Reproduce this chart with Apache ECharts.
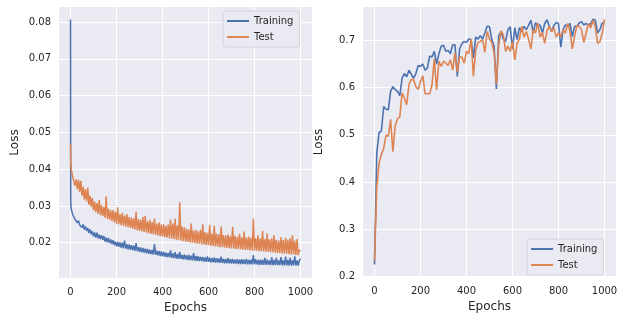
<!DOCTYPE html>
<html>
<head>
<meta charset="utf-8">
<script src="https://cdn.jsdelivr.net/npm/echarts@6/dist/echarts.min.js"></script>
<style>
html,body{margin:0;padding:0;background:#fff;}
#chart{width:625px;height:322px;}
</style>
</head>
<body>
<div id="chart"></div>
<script>
// ---------- Data ----------
const seriesNames = ['Training', 'Test'];
const xTickValues = [0, 200, 400, 600, 800, 1000];
const lossTickLabels = ['0.02', '0.03', '0.04', '0.05', '0.06', '0.07', '0.08'];
const accTickLabels = ['0.2', '0.3', '0.4', '0.5', '0.6', '0.7'];

// epochs for the loss plot: 0..4, then every 5 epochs
const lossEpochs = [0, 1, 2, 3, 4];
for (let e = 5; e <= 1000; e += 5) lossEpochs.push(e);

const trainLoss = [
0.0807,0.0320,0.0300,0.0292,0.0288,
0.0290,0.0276,0.0274,0.0263,0.0268,0.0254,0.0260,0.0248,0.0253,0.0241,
0.0250,0.0236,0.0244,0.0232,0.0240,0.0227,0.0236,0.0223,0.0231,0.0217,
0.0228,0.0214,0.0227,0.0212,0.0222,0.0210,0.0220,0.0208,0.0218,0.0203,
0.0214,0.0201,0.0213,0.0199,0.0209,0.0196,0.0207,0.0194,0.0203,0.0190,
0.0202,0.0189,0.0201,0.0187,0.0200,0.0185,0.0206,0.0184,0.0196,0.0182,
0.0195,0.0181,0.0193,0.0180,0.0192,0.0178,0.0199,0.0177,0.0188,0.0175,
0.0187,0.0174,0.0186,0.0173,0.0184,0.0171,0.0183,0.0170,0.0181,0.0169,
0.0180,0.0168,0.0196,0.0167,0.0178,0.0166,0.0177,0.0164,0.0176,0.0163,
0.0175,0.0162,0.0173,0.0161,0.0172,0.0160,0.0179,0.0159,0.0171,0.0158,
0.0174,0.0157,0.0169,0.0156,0.0175,0.0156,0.0167,0.0155,0.0168,0.0154,
0.0166,0.0153,0.0167,0.0153,0.0165,0.0152,0.0172,0.0151,0.0164,0.0151,
0.0163,0.0150,0.0162,0.0150,0.0161,0.0149,0.0160,0.0148,0.0163,0.0148,
0.0159,0.0147,0.0158,0.0147,0.0160,0.0146,0.0158,0.0146,0.0157,0.0145,
0.0162,0.0145,0.0156,0.0144,0.0156,0.0144,0.0158,0.0144,0.0155,0.0143,
0.0156,0.0143,0.0154,0.0143,0.0155,0.0142,0.0154,0.0142,0.0155,0.0142,
0.0154,0.0142,0.0156,0.0141,0.0153,0.0141,0.0154,0.0141,0.0166,0.0141,
0.0155,0.0141,0.0153,0.0140,0.0154,0.0140,0.0153,0.0140,0.0159,0.0140,
0.0154,0.0140,0.0152,0.0139,0.0160,0.0139,0.0153,0.0139,0.0159,0.0139,
0.0152,0.0139,0.0161,0.0139,0.0152,0.0138,0.0162,0.0138,0.0153,0.0138,
0.0159,0.0138,0.0152,0.0138,0.0163,0.0138,0.0152,0.0138,0.0151,0.0157
];

const testLoss = [
0.0470,0.0410,0.0418,0.0400,0.0405,
0.0398,0.0378,0.0380,0.0355,0.0372,0.0345,0.0371,0.0338,0.0368,0.0328,
0.0352,0.0318,0.0345,0.0312,0.0350,0.0303,0.0328,0.0298,0.0322,0.0288,
0.0312,0.0283,0.0308,0.0279,0.0316,0.0275,0.0302,0.0272,0.0297,0.0268,
0.0326,0.0265,0.0292,0.0262,0.0288,0.0259,0.0289,0.0256,0.0284,0.0252,
0.0296,0.0250,0.0277,0.0248,0.0281,0.0246,0.0274,0.0244,0.0278,0.0242,
0.0270,0.0240,0.0268,0.0238,0.0266,0.0236,0.0284,0.0234,0.0264,0.0232,
0.0262,0.0231,0.0270,0.0229,0.0273,0.0227,0.0258,0.0226,0.0262,0.0224,
0.0256,0.0223,0.0266,0.0221,0.0252,0.0220,0.0255,0.0218,0.0250,0.0217,
0.0250,0.0215,0.0246,0.0214,0.0249,0.0212,0.0263,0.0211,0.0252,0.0210,
0.0265,0.0208,0.0247,0.0207,0.0310,0.0206,0.0244,0.0204,0.0242,0.0203,
0.0238,0.0202,0.0236,0.0201,0.0252,0.0200,0.0233,0.0199,0.0235,0.0198,
0.0231,0.0197,0.0235,0.0196,0.0250,0.0195,0.0229,0.0194,0.0227,0.0193,
0.0249,0.0192,0.0225,0.0191,0.0246,0.0190,0.0224,0.0189,0.0223,0.0188,
0.0244,0.0188,0.0221,0.0187,0.0220,0.0186,0.0222,0.0185,0.0218,0.0184,
0.0243,0.0184,0.0219,0.0183,0.0216,0.0182,0.0224,0.0182,0.0215,0.0181,
0.0230,0.0180,0.0214,0.0180,0.0217,0.0179,0.0213,0.0179,0.0266,0.0178,
0.0212,0.0178,0.0220,0.0177,0.0211,0.0177,0.0232,0.0176,0.0210,0.0175,
0.0225,0.0175,0.0209,0.0174,0.0212,0.0174,0.0220,0.0173,0.0208,0.0172,
0.0206,0.0172,0.0215,0.0171,0.0207,0.0170,0.0213,0.0170,0.0208,0.0169,
0.0212,0.0168,0.0220,0.0168,0.0206,0.0167,0.0210,0.0166,0.0180,0.0178
];

// epochs for the right plot: every 10 epochs
const accEpochs = [];
for (let e = 0; e <= 1000; e += 10) accEpochs.push(e);

const trainAcc = [
0.225,0.462,0.505,0.508,0.560,0.554,0.553,0.592,0.602,0.596,
0.592,0.583,0.620,0.630,0.623,0.637,0.628,0.620,0.630,0.647,
0.645,0.650,0.637,0.642,0.667,0.665,0.677,0.650,0.672,0.688,
0.690,0.677,0.679,0.672,0.691,0.691,0.624,0.682,0.693,0.698,
0.696,0.703,0.702,0.663,0.707,0.703,0.710,0.703,0.716,0.730,
0.729,0.702,0.688,0.597,0.710,0.719,0.703,0.698,0.723,0.729,
0.682,0.727,0.702,0.727,0.719,0.730,0.723,0.732,0.743,0.716,
0.738,0.730,0.733,0.716,0.736,0.744,0.730,0.719,0.732,0.738,
0.736,0.686,0.723,0.733,0.730,0.736,0.708,0.730,0.730,0.737,
0.740,0.733,0.736,0.732,0.736,0.745,0.743,0.716,0.723,0.737,
0.736
];

const testAcc = [
0.233,0.390,0.440,0.459,0.471,0.499,0.497,0.533,0.464,0.519,
0.534,0.538,0.589,0.578,0.564,0.607,0.617,0.617,0.602,0.596,
0.613,0.625,0.587,0.587,0.587,0.606,0.661,0.595,0.656,0.645,
0.656,0.652,0.647,0.659,0.637,0.674,0.633,0.665,0.665,0.652,
0.677,0.672,0.703,0.624,0.679,0.696,0.698,0.702,0.675,0.719,
0.703,0.696,0.674,0.607,0.688,0.721,0.712,0.677,0.688,0.677,
0.698,0.659,0.694,0.703,0.730,0.707,0.719,0.703,0.682,0.723,
0.716,0.737,0.707,0.717,0.694,0.721,0.730,0.719,0.727,0.707,
0.716,0.708,0.723,0.716,0.736,0.719,0.682,0.708,0.732,0.730,
0.723,0.696,0.716,0.736,0.727,0.743,0.729,0.694,0.698,0.715,
0.745
];

// ---------- Styling ----------
const BLUE = '#4c72b0';
const ORANGE = '#dd8452';
const BG = '#eaeaf2';
const TXT = '#262626';
const FONT = 'DejaVu Sans';

function zip(xs, ys) { return xs.map((x, i) => [x, ys[i]]); }

function isMultiple(v, step) {
  const r = v / step;
  return Math.abs(r - Math.round(r)) < 1e-6;
}

function xAxisCfg(gridIndex) {
  return {
    type: 'value', gridIndex: gridIndex,
    min: -50, max: 1050, minInterval: 200, maxInterval: 200,
    name: 'Epochs', nameLocation: 'middle', nameGap: 23,
    nameTextStyle: { fontFamily: FONT, fontSize: 12, color: TXT },
    axisLine: { show: false }, axisTick: { show: false },
    axisLabel: {
      fontFamily: FONT, fontSize: 10, color: TXT, margin: 9,
      showMinLabel: false, showMaxLabel: false,
      formatter: v => (isMultiple(v, 200) && xTickValues.indexOf(Math.round(v)) >= 0) ? String(Math.round(v)) : ''
    },
    splitLine: { show: true, showMinLine: false, showMaxLine: false, lineStyle: { color: '#ffffff', width: 1 } }
  };
}

function yAxisCfg(gridIndex, min, max, step, labels, decimals) {
  return {
    type: 'value', gridIndex: gridIndex,
    min: min, max: max, minInterval: step, maxInterval: step,
    name: 'Loss', nameLocation: 'middle', nameGap: 38,
    nameTextStyle: { fontFamily: FONT, fontSize: 12, color: TXT },
    axisLine: { show: false }, axisTick: { show: false },
    axisLabel: {
      fontFamily: FONT, fontSize: 10, color: TXT, margin: 8,
      formatter: v => {
        if (!isMultiple(v, step)) return '';
        const s = v.toFixed(decimals);
        return labels.indexOf(s) >= 0 ? s : '';
      }
    },
    splitLine: { show: true, showMinLine: false, showMaxLine: false, lineStyle: { color: '#ffffff', width: 1 } }
  };
}

function lineSeries(name, color, xi, yi, data, width) {
  return {
    name: name, type: 'line', xAxisIndex: xi, yAxisIndex: yi,
    data: data, showSymbol: false, symbol: 'none', smooth: false,
    color: color,
    lineStyle: { color: color, width: width },
    emphasis: { disabled: true }
  };
}

function legendCfg(pos) {
  return Object.assign({
    data: seriesNames, orient: 'vertical',
    icon: 'rect', itemWidth: 22, itemHeight: 2, itemGap: 4, itemTextGap: 9,
    textStyle: { fontFamily: FONT, fontSize: 10, color: TXT, lineHeight: 12 },
    backgroundColor: 'rgba(234,234,242,0.85)', borderColor: '#d4d4dc', borderWidth: 1, borderRadius: 3,
    padding: [4, 6, 4, 4]
  }, pos);
}

const chart = echarts.init(document.getElementById('chart'), null, { renderer: 'canvas' });
chart.setOption({
  animation: false,
  backgroundColor: '#ffffff',
  textStyle: { fontFamily: FONT },
  grid: [
    { left: 59, top: 7, width: 253, height: 271, show: true, backgroundColor: BG, borderWidth: 0 },
    { left: 363, top: 7, width: 253, height: 270, show: true, backgroundColor: BG, borderWidth: 0 }
  ],
  xAxis: [xAxisCfg(0), xAxisCfg(1)],
  yAxis: [
    yAxisCfg(0, 0.0104, 0.0841, 0.01, lossTickLabels, 2),
    yAxisCfg(1, 0.1985, 0.771, 0.1, accTickLabels, 1)
  ],
  legend: [
    legendCfg({ left: 223, top: 11 }),
    legendCfg({ left: 527, top: 239 })
  ],
  series: [
    lineSeries('Training', BLUE, 0, 0, zip(lossEpochs, trainLoss), 1.5),
    lineSeries('Test', ORANGE, 0, 0, zip(lossEpochs, testLoss), 1.5),
    lineSeries('Training', BLUE, 1, 1, zip(accEpochs, trainAcc), 1.6),
    lineSeries('Test', ORANGE, 1, 1, zip(accEpochs, testAcc), 1.6)
  ]
});
</script>
</body>
</html>
